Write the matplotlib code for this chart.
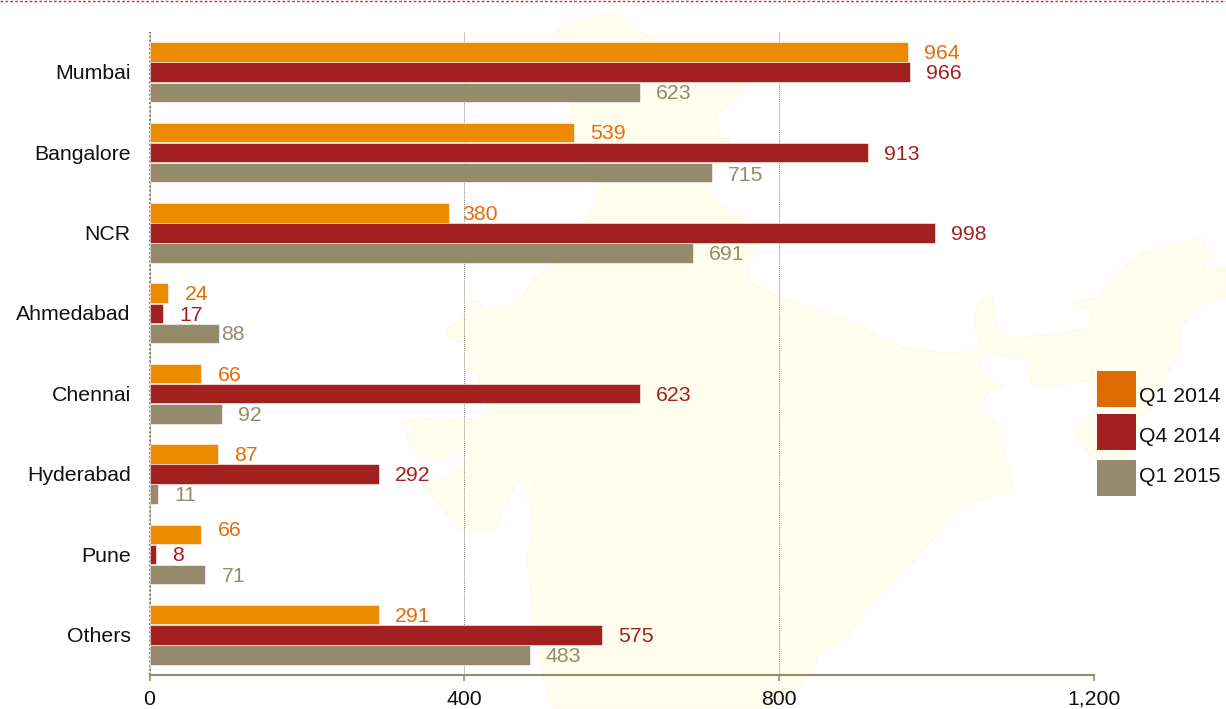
import matplotlib
matplotlib.use('Agg')
from matplotlib import pyplot as plt
from matplotlib.patches import Polygon, Rectangle
from matplotlib.transforms import ScaledTranslation

plt.rcParams['font.family'] = ['Liberation Sans', 'DejaVu Sans']

cities = ['Mumbai', 'Bangalore', 'NCR', 'Ahmedabad', 'Chennai', 'Hyderabad', 'Pune', 'Others']
q1_2014 = [964, 539, 380, 24, 66, 87, 66, 291]
q4_2014 = [966, 913, 998, 17, 623, 292, 8, 575]
q1_2015 = [623, 715, 691, 88, 92, 11, 71, 483]
series_names = ['Q1 2014', 'Q4 2014', 'Q1 2015']
x_ticks = [0, 400, 800, 1200]
x_tick_labels = ['0', '400', '800', '1,200']

bar_colors = ['#EC8B00', '#A32020', '#968A6C']
text_colors = ['#E36C0A', '#A32020', '#968A6C']
legend_colors = ['#DD6B00', '#A32020', '#968A6C']
map_color = '#FFFEEE'
W, H = 1226, 709
FS = 15.3

# outline of the map behind the chart, in pixels of the picture
india = [(550, 37), (565, 23), (583, 22), (603, 13), (620, 13), (633, 28), (650, 37), (700, 60), (748, 83),
         (733, 103), (717, 115), (720, 137), (730, 140), (710, 185), (717, 200), (733, 213), (750, 222),
         (760, 243), (750, 263), (747, 280), (780, 297), (860, 325), (878, 337), (903, 347), (940, 353),
         (973, 352), (980, 343), (975, 327), (977, 305), (992, 298), (997, 310), (995, 330), (1013, 338),
         (1047, 335), (1090, 328), (1090, 310), (1075, 307), (1075, 302), (1100, 297), (1120, 270),
         (1143, 253), (1180, 243), (1200, 237), (1210, 257), (1203, 268), (1226, 267), (1226, 297),
         (1207, 302), (1180, 327), (1180, 353), (1160, 387), (1150, 413), (1125, 420), (1093, 380),
         (1073, 383), (1047, 387), (1030, 383), (1030, 363), (1023, 355), (1017, 360), (987, 352),
         (978, 367), (1003, 387), (990, 390), (980, 410), (997, 420), (1002, 447), (1007, 463), (1013, 490),
         (990, 497), (960, 507), (950, 520), (900, 577), (867, 610), (847, 637), (817, 657), (813, 673),
         (793, 690), (770, 709), (553, 709), (543, 677), (533, 613), (527, 560), (533, 533), (532, 507),
         (525, 493), (535, 483), (517, 483), (510, 497), (496, 529), (458, 529), (450, 517), (423, 487),
         (463, 467), (472, 457), (463, 453), (440, 462), (413, 453), (407, 437), (417, 430), (400, 425),
         (420, 417), (443, 422), (463, 417), (477, 422), (488, 407), (478, 382), (478, 373), (465, 370),
         (465, 343), (448, 338), (448, 328), (463, 315), (467, 302), (477, 300), (487, 310), (517, 303),
         (533, 280), (553, 265), (583, 222), (597, 207), (597, 185), (572, 123), (572, 103)]
tripura = [(1073, 430), (1097, 413), (1140, 415), (1130, 460), (1110, 460), (1093, 457), (1083, 447)]

fig = plt.figure(figsize=(W / 100, H / 100), dpi=100)

bg = fig.add_axes([0, 0, 1, 1], zorder=0)
bg.set_xlim(0, W)
bg.set_ylim(H, 0)
bg.axis('off')
bg.add_patch(Polygon(india, closed=True, fc=map_color, ec='#FFF8EA', lw=0.8))
bg.add_patch(Polygon(tripura, closed=True, fc=map_color, ec='#FFF8EA', lw=0.8))
bg.plot([0, W], [0.5, 0.5], color='#C0392B', lw=1, ls=(0, (2, 1.5)))

ax = fig.add_axes([149.5 / W, (H - 675) / H, 944.5 / W, 643 / H], zorder=1)
ax.patch.set_alpha(0)
ax.set_xlim(0, 1200)
ax.set_ylim(7.5, -0.5)

# nudges of single labels in pixels (series, city): (dx, dy)
nudge = {(2, 1): (0, 1.5), (0, 2): (-2, 0), (2, 3): (-14, 0), (1, 3): (0, 0.5), (0, 6): (0, -5)}

height = 0.243
for s, values in enumerate([q1_2014, q4_2014, q1_2015]):
    pos = [i + (s - 1) * 0.25 for i in range(len(cities))]
    ax.barh(pos, values, height=height, color=bar_colors[s], edgecolor='#FFFFFF', lw=0.4, zorder=3)
    for i, v in enumerate(values):
        dx, dy = nudge.get((s, i), (0, 0))
        ax.annotate(str(v), (v, pos[i]), xytext=((16 + dx) * 0.72, -(dy + 1.5) * 0.72), textcoords='offset points',
                    va='center', ha='left', fontsize=FS, color=text_colors[s], zorder=4)

ax.set_yticks(range(len(cities)))
ax.set_yticklabels(cities, fontsize=FS, color='#111111')
ax.tick_params(axis='y', length=0, pad=13.5)
up = ScaledTranslation(0, 0.3 / 72, fig.dpi_scale_trans)
for label in ax.get_yticklabels():
    label.set_transform(label.get_transform() + up)
ax.set_xticks(x_ticks)
ax.set_xticklabels(x_tick_labels, fontsize=FS, color='#111111')
ax.tick_params(axis='x', length=4, width=1.2, color='#968A6C', pad=6.5)

ax.grid(axis='x', color='#8A8A7A', lw=0.7, ls=(0, (1, 1)), zorder=1)
ax.set_axisbelow(True)
for side in ['top', 'right']:
    ax.spines[side].set_visible(False)
ax.spines['bottom'].set_color('#968A6C')
ax.spines['bottom'].set_linewidth(1.5)
ax.spines['left'].set_color('#968A6C')
ax.spines['left'].set_linewidth(1.5)
ax.spines['left'].set_linestyle((0, (1, 1)))
ax.spines['left'].set_capstyle('butt')

# legend, drawn by hand since the swatches are not evenly spaced
swatch_top = [371, 414, 460]
text_mid = [395, 435, 476]
for name, col, top, mid in zip(series_names, legend_colors, swatch_top, text_mid):
    bg.add_patch(Rectangle((1097, top), 39, 36, fc=col, ec='none'))
    bg.text(1139, mid + 1, name, fontsize=FS, color='#111111', va='center', ha='left')

fig.savefig('out.png', dpi=100)
